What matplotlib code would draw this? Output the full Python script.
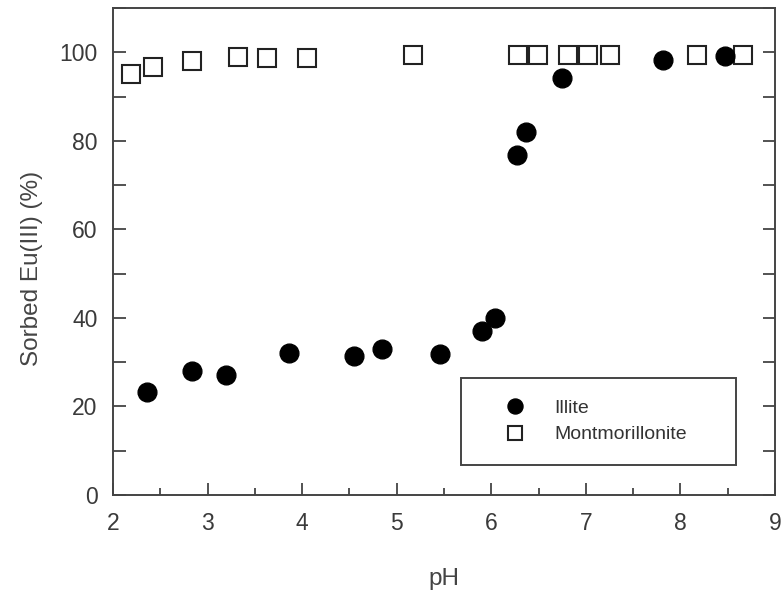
import numpy as np
import matplotlib.pyplot as plt
from matplotlib.ticker import MultipleLocator

plt.rcParams['font.family'] = ['Liberation Sans', 'DejaVu Sans']

# Eu(III) sorption edges
illite_ph = [2.36, 2.84, 3.19, 3.86, 4.55, 4.84, 5.46, 5.90, 6.04, 6.27, 6.37, 6.75, 7.82, 8.47]
illite_sorbed = [23.3, 28.1, 27.1, 32.1, 31.4, 33.0, 31.9, 37.1, 40.0, 76.9, 81.9, 94.1, 98.2, 99.1]

mont_ph = [2.19, 2.42, 2.84, 3.32, 3.63, 4.05, 5.17, 6.28, 6.49, 6.81, 7.02, 7.26, 8.18, 8.66]
mont_sorbed = [95.0, 96.6, 98.0, 98.9, 98.6, 98.6, 99.3, 99.3, 99.3, 99.3, 99.3, 99.3, 99.3, 99.3]

fig = plt.figure(figsize=(7.83, 5.94), dpi=100)
ax = fig.add_axes([0.1443, 0.1667, 0.8455, 0.8198])

ax.plot(mont_ph, mont_sorbed, 's', ms=12.5, mfc='white', mec='#222222', mew=1.5,
        label='Montmorillonite', zorder=2)
ax.plot(illite_ph, illite_sorbed, 'o', ms=13.5, color='black', label='Illite', zorder=3)

ax.set_xlim(2, 9)
ax.set_ylim(0, 110)
ax.xaxis.set_major_locator(MultipleLocator(1))
ax.xaxis.set_minor_locator(MultipleLocator(0.5))
ax.yaxis.set_minor_locator(MultipleLocator(10))
ax.set_yticks(np.arange(0, 101, 20))
ax.tick_params(which='both', direction='in', right=True, top=False,
               colors='#444444', labelcolor='#3a3a3a', labelsize=16.5, width=1.3)
ax.tick_params(axis='x', which='major', length=9, pad=12)
ax.tick_params(axis='x', which='minor', length=5)
ax.tick_params(axis='y', which='both', length=9, pad=11)
for s in ax.spines.values():
    s.set_color('#444444')
    s.set_linewidth(1.4)

ax.set_xlabel('pH', fontsize=17.5, color='#444444', labelpad=24)
ax.set_ylabel('Sorbed Eu(III) (%)', fontsize=17.5, color='#444444')
ax.yaxis.set_label_coords(-0.105, 0.466)

handles, labels = ax.get_legend_handles_labels()
leg = ax.legend(handles[::-1], labels[::-1], loc='lower left',
                bbox_to_anchor=(0.526, 0.062, 0.415, 0.18), mode='expand',
                borderaxespad=0, fancybox=False, edgecolor='#444444', framealpha=1,
                fontsize=14, handletextpad=0.4, borderpad=1.1, labelspacing=0.45,
                markerscale=0.8, handlelength=3.3)
leg.get_frame().set_linewidth(1.4)
for t in leg.get_texts():
    t.set_color('#333333')

fig.savefig('out.png', dpi=100)
